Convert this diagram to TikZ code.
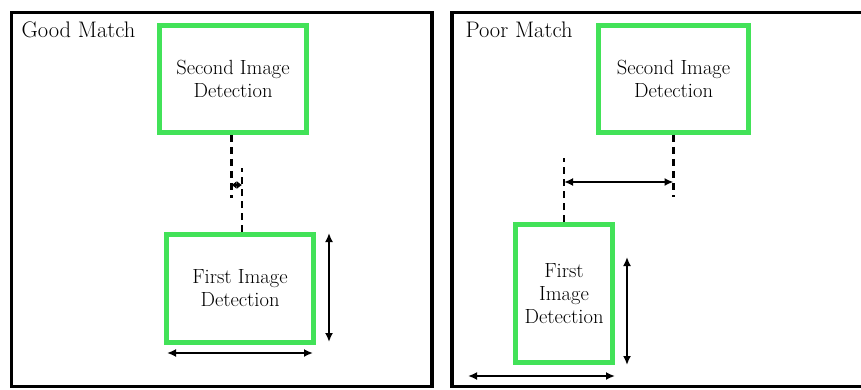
\documentclass[tikz,border=0pt]{standalone}
\usetikzlibrary{positioning, arrows.meta}
\definecolor{detgreen}{RGB}{66,226,88}

\begin{document}
\begin{tikzpicture}[
	x=1pt, y=-1pt,
	>=stealth,
	% Define styles
	panel/.style={draw=black, line width=3.5pt},
	paneltitle/.style={anchor=base west, font=\fontsize{22.5}{26}\selectfont},
	detbox/.style={rectangle, draw=detgreen, line width=5pt, align=center, font=\fontsize{20.5}{23}\selectfont},
	guide/.style={black, line width=2.4pt, dash pattern=on 7pt off 5pt},
	dimarrow/.style={{Latex[length=9pt, width=8pt]}-{Latex[length=9pt, width=8pt]}, line width=2.5pt, black},
	tinyarrow/.style={{Latex[length=5pt, width=8pt]}-{Latex[length=5pt, width=8pt]}, line width=2.5pt, black}
	]
	
	\useasboundingbox (0,0) rectangle (861,390);
	\clip (0,0) rectangle (861,390);
	
	% 1. Panels
	\draw[panel] (11.5,12.5) rectangle (432,386.5);
	\draw[panel] (875,12.5) -- (452,12.5) -- (452,386.5) -- (875,386.5);
	\node[paneltitle] (good) at (18,38) {Good Match};
	\node[paneltitle] (poor) at (462,38) {Poor Match};
	
	% 2. Good match detections
	\node[detbox, minimum width=147, minimum height=107] (second-good) at (233,79) {Second Image\\Detection};
	\node[detbox, minimum width=147, minimum height=108] (first-good) at (240,288.5) {First Image\\Detection};
	
	% Offset guides between the two centres
	\path ([xshift=-1.5]second-good.south) coordinate (gs-start) ++(0,63) coordinate (gs-end);
	\path ([xshift=-1.5]second-good.south) ++(0,50) coordinate (gs-mid);
	\path ([xshift=2]first-good.north) coordinate (gf-start) ++(0,-64) coordinate (gf-end);
	\path ([xshift=2]first-good.north) ++(0,-47) coordinate (gf-mid);
	\draw[guide] (gs-start) -- (gs-end);
	\draw[guide] (gf-start) -- (gf-end);
	\draw[tinyarrow] (gs-mid) -- (gf-mid);
	
	% Size of the first detection
	\path (first-good.north east) ++(13,1) coordinate (gv-top);
	\path (first-good.south east) ++(13,-3) coordinate (gv-bot);
	\path (first-good.south west) ++(3,8) coordinate (gh-left);
	\path (first-good.south east) ++(-3,8) coordinate (gh-right);
	\draw[dimarrow] (gv-top) -- (gv-bot);
	\draw[dimarrow] (gh-left) -- (gh-right);
	
	% 3. Poor match detections
	\node[detbox, minimum width=150, minimum height=107] (second-poor) at (673.5,79) {Second Image\\Detection};
	\node[detbox, minimum width=97, minimum height=138] (first-poor) at (564,293.5) {First\\Image\\Detection};
	
	% Offset guides between the two centres
	\path (second-poor.south) coordinate (ps-start) ++(0,62) coordinate (ps-end);
	\path (second-poor.south) ++(0,47) coordinate (ps-mid);
	\path (first-poor.north) coordinate (pf-start) ++(0,-64) coordinate (pf-end);
	\path (first-poor.north) ++(0,-40) coordinate (pf-mid);
	\draw[guide] (ps-start) -- (ps-end);
	\draw[guide] (pf-start) -- (pf-end);
	\draw[dimarrow] (pf-mid) -- (ps-mid);
	
	% Size of the first detection
	\path (first-poor.north east) ++(12,35) coordinate (pv-top);
	\path (first-poor.south east) ++(12,0) coordinate (pv-bot);
	\path (first-poor.south west) ++(-45,11) coordinate (ph-left);
	\path (first-poor.south east) ++(0,11) coordinate (ph-right);
	\draw[dimarrow] (pv-top) -- (pv-bot);
	\draw[dimarrow] (ph-left) -- (ph-right);
\end{tikzpicture}
\end{document}
